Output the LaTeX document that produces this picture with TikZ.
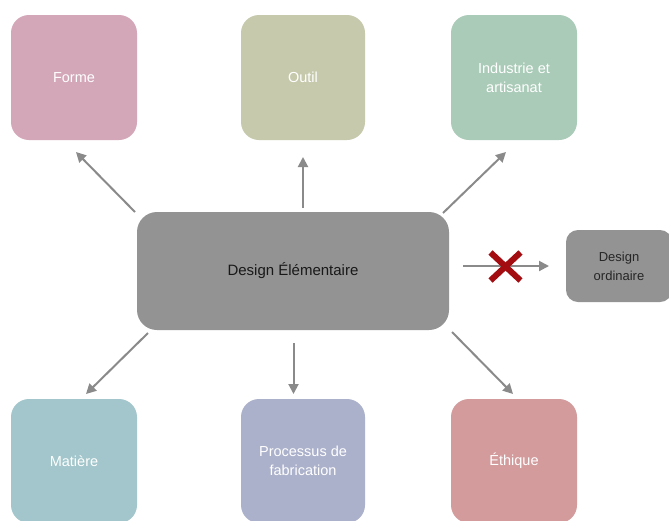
\documentclass[tikz,border=0pt]{standalone}
\usepackage{fontspec}
\setmainfont{Liberation Sans}
\usetikzlibrary{arrows.meta,calc}
\definecolor{cforme}{HTML}{D3A7B8}
\definecolor{coutil}{HTML}{C6C9AC}
\definecolor{cindus}{HTML}{AACBB8}
\definecolor{cmatiere}{HTML}{A2C6CB}
\definecolor{cproc}{HTML}{ACB1CB}
\definecolor{cethique}{HTML}{D39B9C}
\definecolor{cgray}{HTML}{939393}
\definecolor{carrow}{HTML}{8A8A8A}
\definecolor{cred}{HTML}{A30D12}
\begin{document}
\begin{tikzpicture}[x=1pt,y=-1pt,
  box/.style={rounded corners=18pt, minimum width=126pt, minimum height=125pt,
    inner sep=2pt, text=white, align=center, font=\fontsize{14.5}{19}\selectfont},
  mainbox/.style={rounded corners=20pt, fill=cgray, minimum width=312pt, minimum height=118pt,
    text=black!90, font=\fontsize{15}{19}\selectfont},
  sidebox/.style={rounded corners=12pt, fill=cgray, minimum width=106pt, minimum height=72pt,
    text=black!85, align=center, font=\fontsize{13}{19}\selectfont},
  arr/.style={draw=carrow, line width=2pt, -{Triangle[length=10pt,width=10pt]}},
  cross/.style={draw=cred, line width=6pt}
]
\useasboundingbox (0,0) rectangle (669,520);
\fill[white] (0,0) rectangle (669,520);
\begin{scope}
\clip (0,0) rectangle (669,520);
% top boxes
\node[box, fill=cforme] (forme) at (74,77.5) {Forme};
\node[box, fill=coutil, minimum width=124pt] (outil) at (303,77.5) {Outil};
\node[box, fill=cindus] (indus) at (514,77.5) {Industrie et\\artisanat};
% central
\node[mainbox] (design) at (293,271) {Design Élémentaire};
% side box
\node[sidebox] (ordinaire) at (619,266) {Design\\ordinaire};
% bottom boxes
\node[box, fill=cmatiere, minimum height=124pt] (matiere) at (74,461) {Matière};
\node[box, fill=cproc, minimum width=124pt, minimum height=124pt] (proc) at (303,461) {Processus de\\fabrication};
\node[box, fill=cethique, minimum height=124pt] (ethique) at (514,461) {Éthique};
\end{scope}
% arrow end points
\coordinate (fS) at (135,212);
\coordinate (fE) at (76,152);
\coordinate (oS) at (303,208);
\coordinate (oE) at (303,157);
\coordinate (iS) at (443,213);
\coordinate (iE) at (506,152);
\coordinate (mS) at (148,333);
\coordinate (mE) at (86,394);
\coordinate (pS) at (293.5,343);
\coordinate (pE) at (293.5,394);
\coordinate (eS) at (452,332);
\coordinate (eE) at (513,394);
\coordinate (rS) at (463,266);
\coordinate (rE) at (549,266);
\draw[arr] (fS) -- (fE);
\draw[arr] (oS) -- (oE);
\draw[arr] (iS) -- (iE);
\draw[arr] (mS) -- (mE);
\draw[arr] (pS) -- (pE);
\draw[arr] (eS) -- (eE);
\draw[arr] (rS) -- (rE);
% red cross
\coordinate (x) at (505.5,266.5);
\draw[cross] ($(x)+(-15,-14)$) -- ($(x)+(15,14)$);
\draw[cross] ($(x)+(-15,14)$) -- ($(x)+(15,-14)$);
\end{tikzpicture}
\end{document}
